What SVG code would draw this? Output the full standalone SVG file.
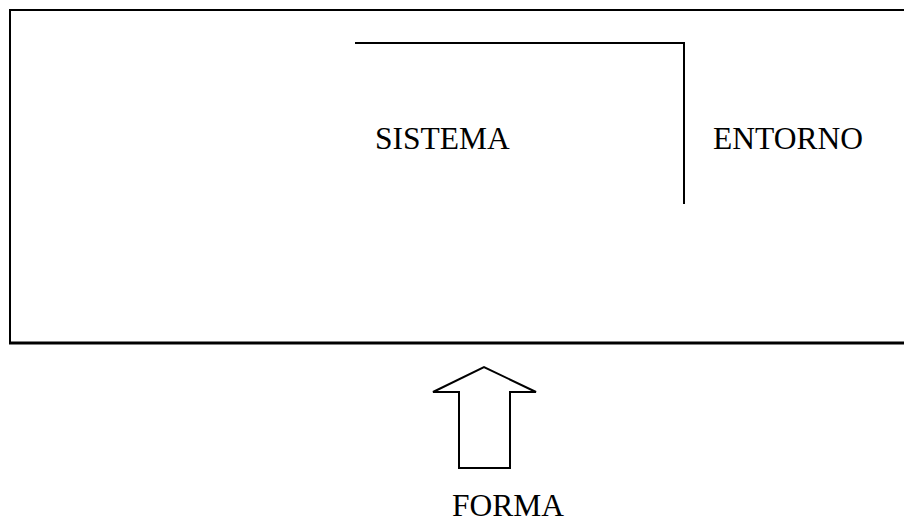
<svg xmlns="http://www.w3.org/2000/svg" width="904" height="523" viewBox="0 0 904 523">
<style>
.ln{fill:none;stroke:#000;stroke-width:2}
.t{font-family:"Liberation Serif","Times New Roman",serif;font-size:31.5px;fill:#000}
</style>
<rect width="904" height="523" fill="#fff"/>
<g id="frame"><path class="ln" d="M906,10 H10 V343"/><path d="M9,343 H906" stroke="#000" stroke-width="3"/></g>
<g id="boundary"><path class="ln" d="M355,43 H684 V204"/></g>
<g id="sistema"><text class="t" x="375" y="149">SISTEMA</text></g>
<g id="entorno"><text class="t" x="713" y="149">ENTORNO</text></g>
<g id="connectors"><path class="ln" d="M459,468 V392 H433 L484,367 L536,392 H510 V468 Z" stroke-linejoin="miter"/></g>
<g id="forma"><text class="t" x="452" y="516">FORMA</text></g>
</svg>
